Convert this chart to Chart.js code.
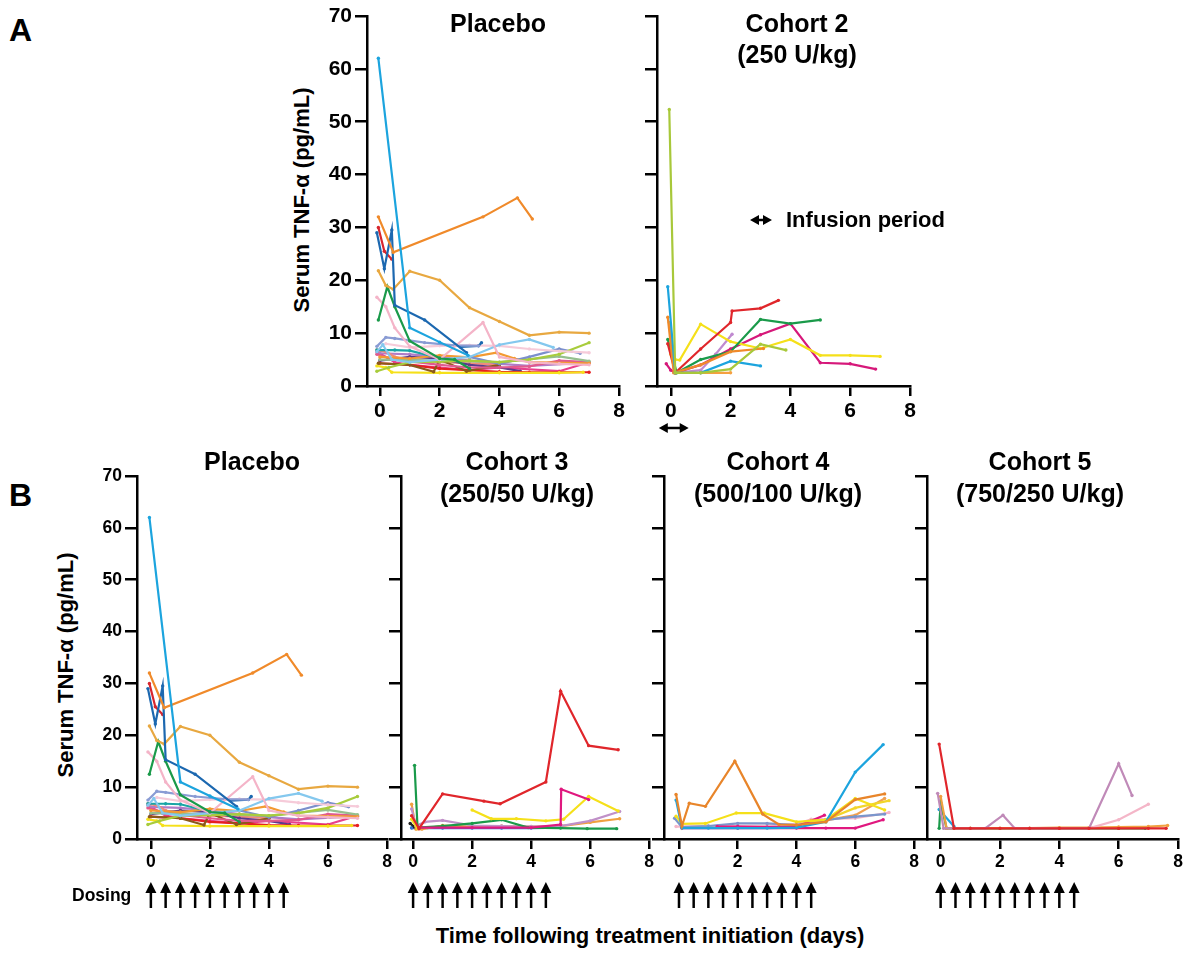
<!DOCTYPE html>
<html>
<head>
<meta charset="utf-8">
<script src="https://cdn.jsdelivr.net/npm/chart.js@4/dist/chart.umd.min.js"></script>
<style>
  html, body { margin: 0; padding: 0; background: #fff; }
  #fig {
    position: relative; width: 1200px; height: 958px; overflow: hidden;
    font-family: "Liberation Sans", Arial, sans-serif; font-weight: bold; color: #000;
  }
  #fig canvas { position: absolute; }
  .lbl { position: absolute; white-space: nowrap; line-height: 1; transform: translate(-50%, -50%); }
  .panel { font-size: 32px; transform: none; }
  .title { font-size: 25px; }
  .ytitle { font-size: 22px; transform: translate(-50%, -50%) rotate(-90deg); }
</style>
</head>
<body>
<div id="fig">
  <div class="lbl panel" style="left:9px; top:14px;">A</div>
  <div class="lbl panel" style="left:9px; top:479px;">B</div>

  <div class="lbl title" style="left:498px; top:23px;">Placebo</div>
  <div class="lbl title" style="left:797px; top:23px;">Cohort 2</div>
  <div class="lbl title" style="left:797px; top:54px;">(250 U/kg)</div>
  <div class="lbl ytitle" style="left:302px; top:200px;">Serum TNF-α (pg/mL)</div>
  <div class="lbl" style="left:786px; top:220px; font-size:22px; transform:translate(0,-50%);">Infusion period</div>

  <div class="lbl title" style="left:252px; top:461px;">Placebo</div>
  <div class="lbl title" style="left:517px; top:461px;">Cohort 3</div>
  <div class="lbl title" style="left:517px; top:493px;">(250/50 U/kg)</div>
  <div class="lbl title" style="left:778px; top:461px;">Cohort 4</div>
  <div class="lbl title" style="left:778px; top:493px;">(500/100 U/kg)</div>
  <div class="lbl title" style="left:1040px; top:461px;">Cohort 5</div>
  <div class="lbl title" style="left:1040px; top:493px;">(750/250 U/kg)</div>
  <div class="lbl ytitle" style="left:66px; top:665px;">Serum TNF-α (pg/mL)</div>

  <div class="lbl" style="left:72px; top:896px; font-size:17.5px; transform:translate(0,-50%);">Dosing</div>
  <div class="lbl" style="left:650px; top:936px; font-size:22px;">Time following treatment initiation (days)</div>
</div>

<script>
// ── Data (days, pg/mL) ───────────────────────────────────────────────────

const X_TICKS = [0, 2, 4, 6, 8];
const Y_TICKS = [0, 10, 20, 30, 40, 50, 60, 70];
const DOSING_DAYS = [0, 0.5, 1, 1.5, 2, 2.5, 3, 3.5, 4, 4.5];
const INFUSION_DAYS = [-0.4, 0.6];

const PLACEBO_SUBJECTS = [
    [[-0.05, 62], [1, 11], [2, 8.3], [2.95, 5.8]],
    [[-0.05, 32], [0.45, 25.3], [3.45, 32], [4.6, 35.6], [5.1, 31.6]],
    [[-0.1, 29], [0.15, 22.2], [0.4, 29.5], [0.5, 15.3], [1.5, 12.5], [2.9, 6.3]],
    [[-0.05, 30], [0.15, 25.5], [0.4, 24]],
    [[-0.05, 21.8], [0.2, 19], [0.45, 18.3], [1, 21.7], [2, 20], [3, 14.8], [4, 12.2], [5, 9.6], [6, 10.2], [7, 10]],
    [[-0.05, 12.5], [0.25, 18.8], [0.5, 15], [1, 8.5], [2, 5.2], [2.5, 5], [3, 3.3]],
    [[-0.1, 16.8], [0.2, 15], [0.5, 11], [1, 7.5], [2, 5], [3.45, 12], [4, 5.5], [5, 4.5], [6, 4.2], [7, 4]],
    [[-0.1, 7.5], [0.2, 9.2], [0.5, 9], [1.5, 8.2], [2.5, 7.7], [3.3, 7.6]],
    [[2.7, 7.4], [3.3, 7.6], [3.4, 8.2]],
    [[-0.1, 6.5], [0.1, 7.8], [0.4, 5], [1, 4.5], [2, 5], [3, 5.5], [4, 7.8], [5, 8.8], [5.8, 7.3]],
    [[-0.1, 6.8], [0.5, 6.8], [1, 6.7], [2, 5.3]],
    [[0.2, 8], [1, 7.3], [2, 7.6], [3, 7.7], [4, 7.6], [5, 7], [6, 6.6], [7, 6.3]],
    [[-0.1, 2.8], [0.3, 3.5], [1, 4.5], [2, 4.6], [3, 4.8], [4, 4.5], [5, 5], [6, 6], [7, 8.2]],
    [[3, 5.5], [4, 4.2], [5, 5.5], [6, 7], [6.7, 6.2]],
    [[0, 5.5], [1, 5.2], [2, 5.8], [3, 5.4], [3.9, 6.3], [4.5, 5.2], [5, 4.5], [7, 4.3]],
    [[0, 5], [2, 4.8], [4, 4.5], [6, 5.6], [7, 4.7]],
    [[-0.1, 6], [0.5, 5], [2, 4], [3, 3.5], [4, 3.5], [5, 3.7], [6, 4.8], [7, 4.5]],
    [[-0.05, 4.3], [1, 4], [1.8, 2.7], [2, 5], [2.9, 2.8], [4, 4]],
    [[-0.1, 3.8], [0.2, 3.5], [0.4, 2.6], [2, 2.5], [4, 2.5], [6, 2.5], [6.8, 2.6]],
    [[0, 4.3], [1, 4], [2, 3.3], [3, 3], [4, 2.7], [5, 2.6], [6, 2.6], [7, 2.6]],
    [[0, 4.8], [1, 5.5], [2, 5.2], [3, 4], [4, 3.5], [4.7, 2.8]],
    [[-0.1, 6.8], [0.2, 6.5], [0.5, 5.5], [1, 5], [2, 4.5], [3, 4.3], [4, 4]],
    [[0, 6.2], [1, 6], [2, 5.5], [3, 4.8], [4, 4.2], [5, 3.8], [7, 4.4]],
    [[-0.1, 6.5], [0.5, 4.5], [1, 4], [2, 3.5], [3, 3], [4, 3.5], [6, 2.8], [7, 4.5]]
];
const PLACEBO_COLORS = [
    "#1ca4de", "#f08a2a", "#1c68b0", "#d8262e", "#e8a840", "#1a9a4a",
    "#f4b4c8", "#8a9cd4", "#1c68b0", "#84c8ee", "#1aa5a5", "#f6cbd9",
    "#a8cc3c", "#7b8fcc", "#f39a32", "#96bf8e", "#e05a8e", "#8b5a1a",
    "#f5e01a", "#e62020", "#5c3a8c", "#f2897a", "#b07cc6", "#e8408c"
];

const COHORT2_SUBJECTS = [
    [[-0.05, 52.3], [0.15, 2.5], [1, 2.5], [2, 3.2], [3, 7.9], [3.85, 6.8]],
    [[-0.1, 18.8], [0.15, 2.5], [1, 2.5], [2, 4.7], [3, 3.8]],
    [[-0.1, 13], [0.1, 2.5], [1, 4], [2, 6.5], [3.1, 7.1]],
    [[-0.05, 12], [0.15, 2.5], [1, 2.5], [2, 2.5]],
    [[-0.1, 8], [0.15, 2.5], [1, 7], [2, 12], [2.05, 14.2], [3, 14.7], [3.6, 16.2]],
    [[-0.1, 8.8], [0.2, 2.5], [1, 5], [2, 6.5], [3, 12.6], [4, 11.8], [5, 12.5]],
    [[0, 6], [0.15, 5], [0.3, 4.9], [1, 11.7], [2, 8.4], [3, 7.1], [4, 8.8], [5, 5.8], [6, 5.8], [7, 5.6]],
    [[-0.15, 4.2], [0, 3], [0.15, 2.5], [1, 4], [2, 7], [3, 9.7], [4, 11.8], [5, 4.4], [6, 4.2], [6.85, 3.2]],
    [[0.15, 2.5], [1, 3], [1.5, 6], [2.05, 9.8]]
];
const COHORT2_COLORS = [
    "#a8c83a", "#1ca4de", "#f08a2a", "#f5a040", "#e0262b",
    "#1a9a4a", "#f5e01a", "#d6187a", "#c08ad0"
];

const COHORT3_SUBJECTS = [
    [[-0.05, 4.5], [0.2, 2], [1, 8.7], [2.4, 7.3], [2.95, 6.8], [4.5, 11], [5, 28.5], [5.95, 18], [6.95, 17.2]],
    [[0.2, 2.2], [2, 2.2], [4, 2.2], [5, 2.8], [5.02, 9.6], [5.95, 7.6]],
    [[2, 5.6], [2.65, 3.9], [3.5, 3.9], [4.5, 3.5], [5.1, 3.8], [5.95, 8.2], [6.95, 5.4]],
    [[-0.05, 3.8], [0.15, 2]],
    [[0.05, 14.2], [0.15, 2.2], [1, 2.5], [2, 3], [3, 3.7], [3.9, 2.2], [5, 2.1], [5.9, 2], [6.9, 2]],
    [[-0.05, 5.8], [0.1, 2.5], [0.4, 3.3], [1, 3.6], [2, 2.6], [3, 2.5], [4, 2.4], [5, 2.5], [6, 3.5], [7, 5.3]],
    [[-0.05, 6.7], [0.1, 1.9], [0.3, 1.9], [1, 2.6], [2, 2.4], [3, 2.5], [4, 2.4], [5, 2.5], [6, 3.2], [7, 3.9]],
    [[-0.1, 3], [0.05, 2.3]],
    [[-0.05, 2.1], [1, 2.1], [2, 2.1], [3, 2.1], [4, 2.1], [5, 2.2]],
    [[-0.05, 2.2], [0.5, 2.2]]
];
const COHORT3_COLORS = [
    "#e0262b", "#e0187f", "#f5e01a", "#f5e01a", "#1a9a4a",
    "#c090c8", "#f0a040", "#222222", "#3a6fd0", "#1ca4de"
];

const COHORT4_SUBJECTS = [
    [[-0.1, 8.6], [0.1, 2.5], [0.35, 6.9], [0.9, 6.3], [1.9, 15], [2.85, 4.8], [3.4, 2.8], [4, 2.7], [5, 3.3], [6, 7.6], [7, 8.7]],
    [[-0.1, 7.5], [0.1, 2.1], [1, 2.1], [2, 2.1], [3, 2.1], [4, 2.2], [5, 3.3], [6, 12.9], [6.95, 18.2]],
    [[-0.1, 4.4], [0.1, 2.9], [0.9, 3], [1.95, 5], [2.9, 5], [4, 3.3], [5, 3.7], [6, 7.8], [7, 5.6]],
    [[4.5, 3.5], [5, 3.7], [6, 6], [7.15, 7.4]],
    [[1.3, 2.4], [2, 2.4], [3, 2.3], [4, 2.4], [4.5, 3.5], [4.95, 4.6]],
    [[0.1, 2.1], [2, 2.1], [4, 2.1], [5, 2.1], [6, 2.1], [6.95, 3.7]],
    [[-0.15, 4], [0.1, 2.3], [1, 2.5], [2, 3], [3, 3], [4, 2.7], [5, 3.7], [6, 4.3], [7, 4.8]],
    [[-0.1, 2.4], [1, 2.5], [2, 2.5], [3, 2.6], [4, 2.9], [4.5, 3.8], [6, 4], [7.15, 5.1]],
    [[4.5, 3.3], [5, 3.6], [6, 4.6], [7, 7.8]]
];
const COHORT4_COLORS = [
    "#e8852a", "#1ca4de", "#f5e01a", "#f2d52a", "#e0187f",
    "#e0187f", "#7b96cc", "#f4b6c8", "#f0a050"
];

const COHORT5_SUBJECTS = [
    [[-0.05, 18.3], [0.45, 2.05], [1, 2.05], [2, 2.05], [3, 2.05], [4, 2.05], [5, 2.05], [6, 2.05], [7, 2.05], [7.6, 2.05]],
    [[-0.1, 8.8], [0.1, 2.05], [1, 2.05], [1.5, 2.05], [2.1, 4.6], [2.5, 2.05], [3, 2.05], [4, 2.05], [5, 2.05], [6, 14.5], [6.45, 8.4]],
    [[5, 2.05], [6, 3.7], [7, 6.7]],
    [[0, 8.2], [0.2, 2.05], [1, 2.1], [2, 2.1], [3, 2.1], [4, 2.2], [5, 2.2], [6, 2.3], [7, 2.4], [7.65, 2.6]],
    [[-0.05, 2.05], [0, 7], [0.2, 2.05], [1, 2.05], [2, 2.05], [3, 2.05], [4, 2.05], [5, 2.05], [6, 2.05], [6.9, 2.05]],
    [[-0.05, 5.7], [0.45, 2.4]]
];
const COHORT5_COLORS = ["#e0262b", "#c08ab8", "#f4b6c8", "#f0a040", "#1a9a4a", "#1ca4de"];

// ── Layout (page pixels) ─────────────────────────────────────────────────

const PANELS = [
    { box: [317, 0, 312, 420],   area: [367, 16, 619, 386],  xMin: -0.43, labels: true,  font: 21,
      series: PLACEBO_SUBJECTS, colors: PLACEBO_COLORS },
    { box: [640, 0, 280, 445],   area: [657, 16, 910, 386],  xMin: -0.46, labels: false, font: 21,
      series: COHORT2_SUBJECTS, colors: COHORT2_COLORS, infusion: true, key: [110, 132, 220] },
    { box: [88, 460, 307, 456],  area: [137, 476, 387, 839], xMin: -0.47, labels: true,  font: 17.5,
      series: PLACEBO_SUBJECTS, colors: PLACEBO_COLORS, dosing: true },
    { box: [385, 460, 272, 456], area: [401, 476, 650, 839], xMin: -0.41, labels: false, font: 17.5,
      series: COHORT3_SUBJECTS, colors: COHORT3_COLORS, dosing: true },
    { box: [648, 460, 274, 456], area: [664, 476, 914, 839], xMin: -0.51, labels: false, font: 17.5,
      series: COHORT4_SUBJECTS, colors: COHORT4_COLORS, dosing: true },
    { box: [911, 460, 282, 456], area: [927, 476, 1178, 839], xMin: -0.46, labels: false, font: 17.5,
      series: COHORT5_SUBJECTS, colors: COHORT5_COLORS, dosing: true }
];

// ── Arrows ───────────────────────────────────────────────────────────────

function arrowUp(ctx, x, top, bottom) {
    ctx.beginPath();
    ctx.moveTo(x, bottom);
    ctx.lineTo(x, top + 8);
    ctx.stroke();
    ctx.beginPath();
    ctx.moveTo(x, top);
    ctx.lineTo(x - 5.5, top + 11);
    ctx.lineTo(x + 5.5, top + 11);
    ctx.closePath();
    ctx.fill();
}

function arrowLR(ctx, x1, x2, y) {
    ctx.beginPath();
    ctx.moveTo(x1 + 6, y);
    ctx.lineTo(x2 - 6, y);
    ctx.stroke();
    ctx.beginPath();
    ctx.moveTo(x1, y);
    ctx.lineTo(x1 + 9, y - 5);
    ctx.lineTo(x1 + 9, y + 5);
    ctx.closePath();
    ctx.moveTo(x2, y);
    ctx.lineTo(x2 - 9, y - 5);
    ctx.lineTo(x2 - 9, y + 5);
    ctx.closePath();
    ctx.fill();
}

const marksPlugin = {
    id: "marks",
    afterDraw(chart, args, opts) {
        const ctx = chart.ctx;
        const x = chart.scales.x;
        const bottom = chart.chartArea.bottom;
        ctx.save();
        ctx.fillStyle = "#000";
        ctx.strokeStyle = "#000";
        ctx.lineWidth = 2.5;
        if (opts.dosing) {
            DOSING_DAYS.forEach(d => arrowUp(ctx, x.getPixelForValue(d), bottom + 43, bottom + 69));
        }
        if (opts.infusion) {
            arrowLR(ctx, x.getPixelForValue(INFUSION_DAYS[0]), x.getPixelForValue(INFUSION_DAYS[1]), bottom + 42);
        }
        if (opts.key) arrowLR(ctx, opts.key[0], opts.key[1], opts.key[2]);
        ctx.restore();
    }
};

// ── Charts ───────────────────────────────────────────────────────────────

const fig = document.getElementById("fig");

function axisGrid(len) {
    return { drawOnChartArea: false, drawTicks: true, tickLength: len, color: "#000", lineWidth: 2.5 };
}

function makePanel(p) {
    const [bx, by, bw, bh] = p.box;
    const [l, t, r, b] = p.area;

    const canvas = document.createElement("canvas");
    canvas.width = bw;
    canvas.height = bh;
    canvas.style.left = bx + "px";
    canvas.style.top = by + "px";
    fig.insertBefore(canvas, fig.firstChild);

    const tickFont = { family: "'Liberation Sans', Arial, sans-serif", size: p.font, weight: "bold" };

    return new Chart(canvas, {
        type: "line",
        data: {
            datasets: p.series.map((d, i) => ({
                data: d,
                borderColor: p.colors[i],
                backgroundColor: p.colors[i],
                borderWidth: 2.2,
                pointRadius: 1.7,
                pointBorderWidth: 0,
                pointHoverRadius: 0,
                tension: 0,
                fill: false
            }))
        },
        options: {
            responsive: false,
            animation: false,
            devicePixelRatio: 1,
            events: [],
            layout: { padding: { left: 0, top: t - by, right: bx + bw - r, bottom: 0 } },
            plugins: {
                legend: { display: false },
                tooltip: { enabled: false },
                marks: { dosing: !!p.dosing, infusion: !!p.infusion, key: p.key || null }
            },
            scales: {
                x: {
                    type: "linear",
                    min: p.xMin,
                    max: 8,
                    afterBuildTicks: s => { s.ticks = X_TICKS.map(v => ({ value: v })); },
                    afterFit: s => { s.height = by + bh - b; },
                    grid: axisGrid(10),
                    border: { display: true, color: "#000", width: 2.5 },
                    ticks: { color: "#000", font: tickFont, padding: 3, maxRotation: 0, autoSkip: false }
                },
                y: {
                    type: "linear",
                    min: 0,
                    max: 70,
                    afterBuildTicks: s => { s.ticks = Y_TICKS.map(v => ({ value: v })); },
                    afterFit: s => { s.width = l - bx; },
                    grid: axisGrid(12),
                    border: { display: true, color: "#000", width: 2.5 },
                    ticks: { display: p.labels, color: "#000", font: tickFont, padding: 3 }
                }
            }
        },
        plugins: [marksPlugin]
    });
}

PANELS.forEach(makePanel);
</script>
</body>
</html>
